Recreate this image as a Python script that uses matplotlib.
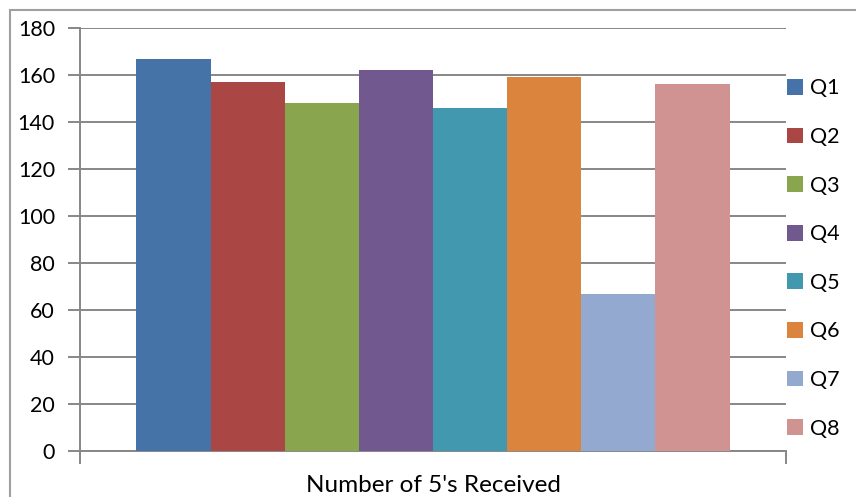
import matplotlib
matplotlib.use("Agg")
import matplotlib.pyplot as plt
from matplotlib.patches import Rectangle

plt.rcParams['font.family'] = ['Lato', 'DejaVu Sans']

series = ["Q1", "Q2", "Q3", "Q4", "Q5", "Q6", "Q7", "Q8"]
values = [167, 157, 148, 162, 146, 159, 67, 156]
colors = ["#4572A7", "#AA4643", "#89A54E", "#71588F",
          "#4198AF", "#DB843D", "#93A9CF", "#D19392"]
category = "Number of 5's Received"
yticks = [0, 20, 40, 60, 80, 100, 120, 140, 160, 180]

W, H = 856, 497
fig = plt.figure(figsize=(W / 100, H / 100), dpi=100)

# outer chart frame
fig.patches.append(Rectangle((10 / W, -0.05), 1.2, (H - 10) / H + 0.05,
                             transform=fig.transFigure, fill=False,
                             edgecolor="#A0A0A0", linewidth=1.5))

left, right, top, bottom = 80, 786, 28, 451
ax = fig.add_axes([left / W, (H - bottom) / H, (right - left) / W, (bottom - top) / H])

grid_color = "#878787"
n = len(series)
group = 0.84
bw = group / n
handles = []
for i, (s, v, c) in enumerate(zip(series, values, colors)):
    x = -group / 2 + bw * (i + 0.5)
    b = ax.bar(x, v, width=bw, color=c, label=s, zorder=3)
    handles.append(b)

ax.set_xlim(-0.5, 0.5)
ax.set_ylim(0, 180)
ax.set_yticks(yticks)
ax.set_yticklabels([str(t) for t in yticks], fontsize=15.5)
ax.yaxis.grid(True, color=grid_color, linewidth=1.4, zorder=0)
ax.tick_params(axis="y", length=9, width=1.4, color=grid_color, pad=9)
ax.set_xticks([-0.5, 0.5])
ax.set_xticklabels([])
ax.tick_params(axis="x", length=9, width=1.4, color=grid_color, direction="out")

for side in ["top", "right"]:
    ax.spines[side].set_visible(False)
for side in ["left", "bottom"]:
    ax.spines[side].set_color(grid_color)
    ax.spines[side].set_linewidth(1.4)

fig.text(433 / W, 1 - 486 / H, category, ha="center", va="center", fontsize=17.5)

leg = ax.legend(handles=handles, loc="upper left",
                bbox_to_anchor=(783 / W, 1 - 74 / H), bbox_transform=fig.transFigure,
                frameon=False, fontsize=15.5, handlelength=0.75, handleheight=0.75,
                handletextpad=0.3, labelspacing=1.33, borderaxespad=0, borderpad=0.2)

fig.savefig("out.png", dpi=100)
